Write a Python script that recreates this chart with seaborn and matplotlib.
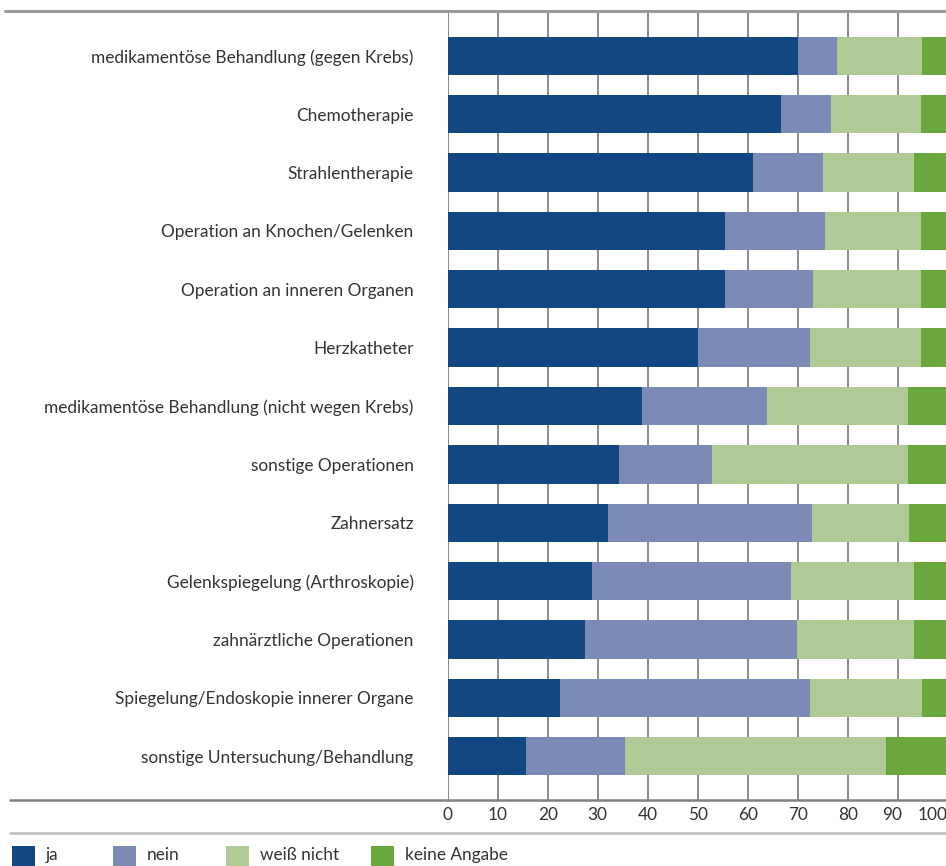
import matplotlib
matplotlib.use("Agg")
import matplotlib.pyplot as plt
import matplotlib.transforms as mtransforms
from matplotlib.lines import Line2D
from matplotlib.patches import Rectangle
import numpy as np
import pandas as pd
import seaborn as sns

categories = [
    "medikamentöse Behandlung (gegen Krebs)",
    "Chemotherapie",
    "Strahlentherapie",
    "Operation an Knochen/Gelenken",
    "Operation an inneren Organen",
    "Herzkatheter",
    "medikamentöse Behandlung (nicht wegen Krebs)",
    "sonstige Operationen",
    "Zahnersatz",
    "Gelenkspiegelung (Arthroskopie)",
    "zahnärztliche Operationen",
    "Spiegelung/Endoskopie innerer Organe",
    "sonstige Untersuchung/Behandlung",
]
ja = [70.0, 66.7, 61.1, 55.5, 55.5, 50.1, 38.9, 34.3, 32.1, 28.9, 27.5, 22.5, 15.7]
nein = [7.9, 10.0, 14.0, 20.0, 17.6, 22.4, 25.0, 18.6, 40.8, 39.8, 42.4, 50.0, 19.8]
weiss_nicht = [17.0, 18.0, 18.2, 19.2, 21.6, 22.2, 28.2, 39.2, 19.4, 24.6, 23.4, 22.4, 52.2]
keine_angabe = [5.1, 5.3, 6.7, 5.3, 5.3, 5.3, 7.9, 7.9, 7.7, 6.7, 6.7, 5.1, 12.3]

series_names = ["ja", "nein", "weiß nicht", "keine Angabe"]
colors = ["#134782", "#7b8bb6", "#afca95", "#6aa73c"]
x_ticks = [0, 10, 20, 30, 40, 50, 60, 70, 80, 90, 100]

sns.set_theme(style="white")
plt.rcParams["font.family"] = ["Lato", "DejaVu Sans"]
text_color = "#333333"

df = pd.DataFrame({"cat": categories, "ja": ja, "nein": nein,
                   "weiss": weiss_nicht, "keine": keine_angabe})
df["c1"] = df["ja"]
df["c2"] = df["c1"] + df["nein"]
df["c3"] = df["c2"] + df["weiss"]
df["c4"] = df["c3"] + df["keine"]

W, H = 946, 866
fig = plt.figure(figsize=(W / 100, H / 100), dpi=100)

# choose a label size whose longest label fits the reference width (~320 px)
renderer = fig.canvas.get_renderer()
fs = 13.0
probe = fig.text(0, 0, categories[0], fontsize=fs)
wpx = probe.get_window_extent(renderer).width
probe.remove()
fs = min(13.0, fs * 320.0 / wpx)

ax_left, ax_right, ax_top, ax_bottom = 447.7, 947.7, 12, 800
ax = fig.add_axes([ax_left / W, 1 - ax_bottom / H, (ax_right - ax_left) / W, (ax_bottom - ax_top) / H])

for col, c in zip(["c4", "c3", "c2", "c1"], colors[::-1]):
    sns.barplot(data=df, x=col, y="cat", order=categories, color=c, saturation=1,
                width=0.656, orient="h", ax=ax, linewidth=0, edgecolor="none")

ax.set_xlim(0, 100)
ax.set_ylim(12.75, -0.75)
ax.set_xticks(x_ticks)
ax.set_xticklabels([str(t) for t in x_ticks])
ax.set_xlabel("")
ax.set_ylabel("")
ax.xaxis.grid(True, color="#8c8c8c", linewidth=1.4)
ax.yaxis.grid(False)
ax.set_axisbelow(True)
for s in ["left", "right", "top", "bottom"]:
    ax.spines[s].set_visible(False)
ax.tick_params(axis="y", length=0, pad=24.5, labelsize=fs, labelcolor=text_color)
ax.tick_params(axis="x", length=0, pad=5, labelsize=fs, labelcolor=text_color)

xlabels = ax.get_xticklabels()
xlabels[-1].set_horizontalalignment("right")
xlabels[-2].set_transform(xlabels[-2].get_transform() +
                          mtransforms.ScaledTranslation(-6 / 100, 0, fig.dpi_scale_trans))

# horizontal rules
def hline(y, color, lw, x0=10):
    fig.add_artist(Line2D([x0 / W, 1], [1 - y / H, 1 - y / H], color=color, linewidth=lw,
                          transform=fig.transFigure))

hline(11, "#9a9a9a", 2.2, x0=5)
hline(800, "#808080", 1.8)
hline(833, "#bdbdbd", 1.8)

# legend
leg_sq_x = [12, 113, 226, 371]
for x0, name, c in zip(leg_sq_x, series_names, colors):
    fig.add_artist(Rectangle((x0 / W, 0), 23 / W, 20 / H, transform=fig.transFigure,
                             facecolor=c, edgecolor="none"))
    fig.text((x0 + 34) / W, 1 - 855 / H, name, fontsize=fs, color=text_color,
             va="center", ha="left")

fig.savefig("out.png", dpi=100)
